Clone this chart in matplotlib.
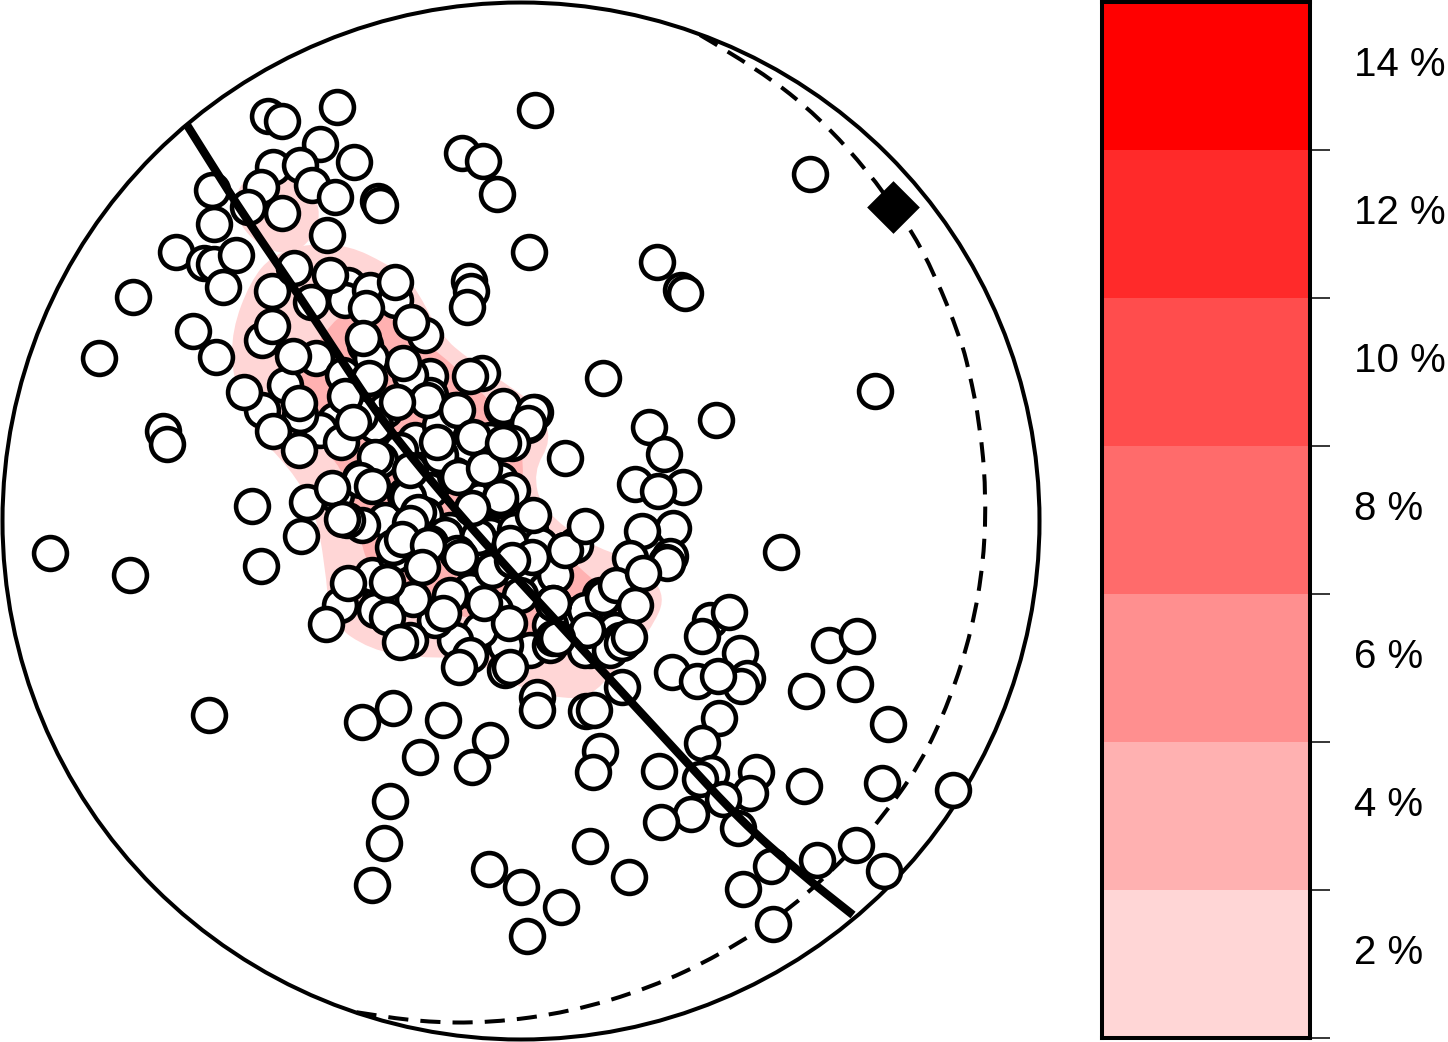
import matplotlib
matplotlib.use('Agg')
import matplotlib.pyplot as plt
from matplotlib.patches import Circle, PathPatch
from matplotlib.path import Path

plt.rcParams['font.family'] = ['Liberation Sans', 'DejaVu Sans']

# poles in pixels, bottom of the pile first
pole_x = [268, 282, 337, 320, 354, 273, 300, 261, 312, 335, 378, 380, 212, 248, 282, 214, 327, 176, 204, 214,
          236, 223, 133, 193, 99, 216, 462, 483, 497, 535, 529, 469, 471, 467, 657, 681, 685, 810, 603, 875,
          716, 649, 664, 565, 635, 683, 658, 673, 642, 670, 666, 634, 781, 604, 710, 729, 702, 740, 672, 697,
          747, 741, 718, 806, 855, 829, 857, 888, 719, 702, 756, 711, 700, 750, 723, 804, 882, 953, 659, 691,
          661, 738, 600, 593, 586, 594, 537, 537, 393, 362, 443, 490, 420, 472, 390, 384, 372, 209, 590, 629,
          489, 521, 561, 527, 743, 771, 817, 856, 884, 773, 163, 167, 252, 301, 261, 50, 130,
          # dense part, under layer
          348, 272, 262, 316, 425, 365, 371, 343, 430, 482, 535, 528, 502, 490, 455, 430, 410, 385, 375, 360,
          335, 320, 300, 285, 262, 345, 370, 395, 415, 440, 465, 445, 420, 400, 380, 405, 430, 455, 480, 500,
          512, 500, 475, 450, 425, 405, 385, 362, 336, 360, 307, 520, 545, 565, 520, 495, 470, 450, 530, 555,
          575, 590, 615, 625, 600, 575, 550, 530, 505, 480, 455, 435, 410, 380, 372, 340, 375, 395, 420, 445,
          470, 490, 515, 540, 565, 585, 550, 585, 620, 470, 505, 610,
          # dense part, middle layer
          440, 503, 533, 528, 512, 375, 360, 408, 418, 430, 478, 457, 393, 410, 458, 410, 500, 347, 630, 667,
          603, 622, 553,
          # dense part, top layer
          294, 330, 395, 366, 311, 411, 272, 293, 363, 369, 403, 427, 397, 345, 299, 244, 273, 299, 341, 353,
          437, 470, 457, 473, 484, 372, 332, 342, 402, 472, 533, 585, 510, 553, 532, 616, 643, 635, 629, 587,
          557, 553, 509, 484, 443, 413, 387, 387, 348, 326, 400, 459, 510, 492, 460, 428, 422, 622, 512, 503]
pole_y = [116, 121, 107, 144, 162, 167, 165, 187, 185, 197, 201, 205, 190, 207, 213, 224, 235, 252, 263, 264,
          255, 287, 297, 331, 358, 357, 153, 161, 194, 110, 252, 281, 291, 307, 262, 290, 293, 174, 378, 391,
          420, 427, 454, 458, 484, 487, 491, 528, 531, 556, 562, 570, 552, 597, 620, 612, 636, 653, 672, 681,
          678, 686, 676, 691, 684, 645, 636, 724, 718, 743, 772, 773, 779, 793, 799, 786, 783, 790, 771, 814,
          822, 828, 751, 772, 711, 710, 697, 710, 708, 722, 720, 740, 757, 767, 801, 843, 885, 715, 846, 877,
          869, 887, 907, 936, 889, 866, 860, 845, 871, 924, 431, 444, 506, 536, 566, 553, 575,
          285, 291, 340, 358, 335, 345, 358, 375, 376, 373, 412, 425, 408, 440, 410, 395, 375, 410, 425, 415,
          420, 430, 415, 385, 410, 300, 290, 300, 440, 425, 455, 475, 470, 450, 460, 495, 490, 475, 500, 480,
          490, 500, 510, 530, 515, 530, 520, 525, 495, 478, 502, 575, 590, 550, 595, 610, 590, 595, 530, 575,
          615, 650, 630, 640, 595, 545, 625, 650, 645, 630, 640, 620, 640, 600, 575, 605, 610, 555, 545, 535,
          555, 535, 530, 545, 550, 610, 645, 650, 640, 655, 670, 650,
          455, 406, 412, 423, 443, 457, 480, 497, 512, 543, 537, 553, 547, 523, 477, 470, 497, 520, 558, 563,
          597, 643, 638,
          268, 275, 282, 308, 302, 322, 326, 356, 338, 378, 363, 400, 402, 396, 403, 392, 431, 450, 442, 422,
          442, 376, 410, 437, 468, 486, 488, 519, 539, 508, 515, 526, 543, 603, 557, 585, 573, 605, 637, 630,
          638, 603, 623, 603, 613, 599, 617, 582, 583, 624, 642, 667, 667, 570, 557, 545, 567, 687, 560, 443]

# great circle through the poles
plane_x = [187, 212, 245, 300, 340, 380, 440, 500, 560, 620, 680, 740, 800, 853]
plane_y = [125, 165, 217, 297, 358, 418, 492, 560, 625, 690, 755, 820, 873, 915]

# dashed circle
dash_x = [700, 760, 820, 871, 893, 910, 935, 960, 969, 980, 986, 984, 972, 950, 920, 880, 855, 790, 720, 650, 570,
          490, 420, 355]
dash_y = [35, 70, 118, 175, 207, 228, 275, 337, 370, 425, 490, 560, 630, 700, 765, 820, 848, 910, 955, 988, 1012,
          1023, 1022, 1012]

axis_x = [893]
axis_y = [207]

# density contours
low_lobe_x = [240, 262, 300, 325, 300, 262, 232]
low_lobe_y = [182, 168, 170, 215, 255, 250, 215]
low_x = [232, 250, 272, 310, 350, 385, 412, 440, 470, 505, 540, 552, 533, 542, 590, 628, 668, 650, 616, 590, 555,
         510, 470, 420, 370, 330, 325, 315, 290, 250, 232]
low_y = [330, 282, 255, 243, 246, 263, 280, 335, 360, 383, 408, 440, 472, 510, 545, 558, 592, 632, 668, 698, 698,
         684, 657, 658, 650, 622, 565, 510, 468, 428, 375]
mid_x = [330, 365, 440, 500, 525, 520, 580, 622, 600, 550, 500, 420, 372, 355, 345, 305, 295]
mid_y = [322, 300, 352, 410, 450, 505, 570, 602, 640, 650, 622, 610, 580, 520, 470, 430, 380]
high_x = [365, 395, 390, 362]
high_y = [505, 520, 545, 530]

# colour bar
band_edges = [1, 3, 5, 7, 9, 11, 13, 15]
band_colors = ['#FFD6D6', '#FFB1B1', '#FF8F8F', '#FF6B6B', '#FF4D4D', '#FF2A2A', '#FF0000']
label_values = [2, 4, 6, 8, 10, 12, 14]
label_texts = ['2 %', '4 %', '6 %', '8 %', '10 %', '12 %', '14 %']


def open_path(xs, ys):
    pts = list(zip(xs, ys))
    verts = [pts[0]]
    codes = [Path.MOVETO]
    for i in range(1, len(pts) - 1):
        p = pts[i]
        q = pts[i + 1]
        mid = ((p[0] + q[0]) / 2, (p[1] + q[1]) / 2)
        verts += [p, mid]
        codes += [Path.CURVE3, Path.CURVE3]
    verts.append(pts[-1])
    codes.append(Path.LINETO)
    return Path(verts, codes)


def closed_path(xs, ys):
    pts = list(zip(xs, ys))
    n = len(pts)
    start = ((pts[0][0] + pts[1][0]) / 2, (pts[0][1] + pts[1][1]) / 2)
    verts = [start]
    codes = [Path.MOVETO]
    for i in range(1, n + 1):
        p = pts[i % n]
        q = pts[(i + 1) % n]
        verts += [p, ((p[0] + q[0]) / 2, (p[1] + q[1]) / 2)]
        codes += [Path.CURVE3, Path.CURVE3]
    return Path(verts, codes)


W, H = 1448, 1042
fig = plt.figure(figsize=(W / 100, H / 100), dpi=100)

ax = fig.add_axes([0, 0, 1, 1])
ax.set_xlim(0, W)
ax.set_ylim(H, 0)
ax.axis('off')

ax.add_patch(PathPatch(closed_path(low_lobe_x, low_lobe_y), fc='#FFD6D6', ec='none', zorder=1))
ax.add_patch(PathPatch(closed_path(low_x, low_y), fc='#FFD6D6', ec='none', zorder=1))
ax.add_patch(PathPatch(closed_path(mid_x, mid_y), fc='#FFB1B1', ec='none', zorder=1.1))
ax.add_patch(PathPatch(closed_path(high_x, high_y), fc='#FF8F8F', ec='none', zorder=1.2))

ax.add_patch(Circle((521, 521), 518.5, fc='none', ec='black', lw=2.9, zorder=2))
ax.add_patch(PathPatch(open_path(dash_x, dash_y), fc='none', ec='black', lw=2.9, ls=(0, (5, 3)), zorder=2))

ax.scatter(pole_x, pole_y, s=560, facecolor='white', edgecolor='black', linewidth=3.3, zorder=3)
ax.add_patch(PathPatch(open_path(plane_x, plane_y), fc='none', ec='black', lw=6, capstyle='butt', zorder=4))
ax.scatter(axis_x, axis_y, s=720, marker='D', color='black', linewidth=0, zorder=5)

cax = fig.add_axes([1102 / W, 1 - 1038 / H, 208 / W, 1036 / H])
cax.set_ylim(1, 15)
cax.set_xlim(0, 1)
for i in range(len(band_colors)):
    cax.axhspan(band_edges[i], band_edges[i + 1], color=band_colors[i], lw=0)
cax.set_xticks([])
cax.yaxis.tick_right()
cax.set_yticks(band_edges[:-1])
cax.set_yticklabels([])
cax.tick_params(axis='y', length=14.5, width=1.1, color='black')
for s in cax.spines.values():
    s.set_linewidth(2.9)

for v, t in zip(label_values, label_texts):
    cax.annotate(t, xy=(1, v), xycoords=('axes fraction', 'data'), xytext=(32, 8), textcoords='offset points',
                 fontsize=29, va='center', ha='left', color='black')

fig.savefig('out.png', dpi=100)
